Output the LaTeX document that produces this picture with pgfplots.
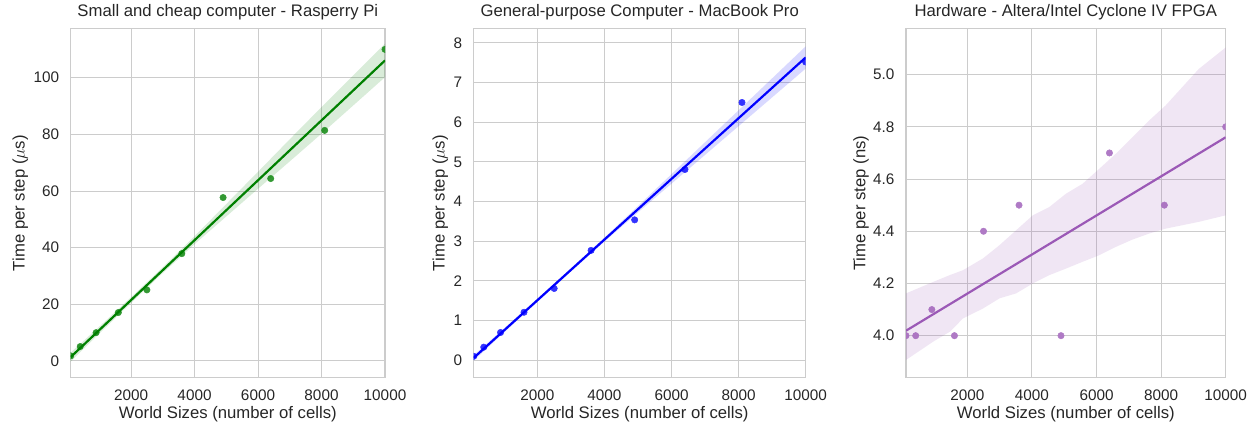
\documentclass[border=0pt]{standalone}
\usepackage{fontspec}
\setmainfont{Liberation Sans}
\usepackage{pgfplots}
\pgfplotsset{compat=1.18}
\definecolor{gridc}{RGB}{204,204,204}
\definecolor{txt}{RGB}{38,38,38}
\definecolor{gline}{RGB}{0,128,0}
\definecolor{gdot}{RGB}{51,153,51}
\definecolor{bline}{RGB}{0,0,255}
\definecolor{bdot}{RGB}{51,51,255}
\definecolor{pline}{RGB}{155,89,182}
\definecolor{pdot}{RGB}{175,122,197}
\pgfplotsset{
  sbase/.style={
    scale only axis, height=349pt,
    xmin=100, xmax=10000,
    xtick={2000,4000,6000,8000,10000},
    axis line style={draw=gridc, line width=1.25pt},
    grid=major, major grid style={draw=gridc, line width=1pt},
    major tick length=0pt, tick style={draw=none},
    tick label style={font=\fontsize{15.3}{18}\selectfont, text=txt},
    /pgf/number format/assume math mode=true,
    /pgf/number format/1000 sep={},
    scaled x ticks=false, scaled y ticks=false,
    xticklabel style={inner sep=0pt, anchor=north, yshift=-12pt},
    yticklabel style={inner sep=0pt, anchor=east, xshift=-11.4pt},
    label style={font=\fontsize{16.7}{20}\selectfont, text=txt},
    title style={font=\fontsize{16.7}{20}\selectfont, text=txt, at={(axis description cs:0.5,1)}, anchor=base, yshift=6.6pt, inner sep=0pt},
    xlabel style={at={(axis description cs:0.5,0)}, anchor=base, yshift=-40.3pt, inner sep=0pt},
    clip marker paths=true,
    xlabel={World Sizes (number of cells)},
  },
  dots/.style={only marks, color=#1, mark=*, mark size=3.2pt, mark options={draw=#1, fill=#1, line width=0.5pt, solid}},
}
\begin{document}
\begin{tikzpicture}
\path[use as bounding box] (0,0) rectangle (1255pt,426pt);

% Panel 1
\begin{axis}[sbase, at={(70.7pt,48.3pt)}, anchor=south west, width=314.3pt,
  ymin=-5.9, ymax=117.3, ytick={0,20,40,60,80,100},
  title={Small and cheap computer - Rasperry Pi},
  ylabel={Time per step ($\mu$s)},
  ylabel style={at={([xshift=-46pt]axis description cs:0,0.5)}, anchor=base, inner sep=0pt}]
\addplot[dots=gdot] coordinates {(100,1.8)(400,5.1)(900,10.0)(1600,17.1)(2500,25.1)(3600,37.9)(4900,57.7)(6400,64.4)(8100,81.4)(10000,110.0)};
\addplot[draw=none, fill=gline, fill opacity=0.15] coordinates {
(100,2.99)(1000,12.11)(2000,22.48)(3000,33.06)(4000,44.03)(5000,55.41)(6000,66.79)(7000,78.26)(8000,89.64)(9000,100.81)(10000,111.99)
(10000,100.19)(9000,90.21)(8000,80.24)(7000,70.46)(6000,60.79)(5000,51.01)(4000,41.23)(3000,31.06)(2000,20.48)(1000,9.71)(100,-0.21)};
\addplot[gline, line width=2.2pt] coordinates {(100,1.39)(10000,106.09)};
\end{axis}

% Panel 2
\begin{axis}[sbase, at={(473.7pt,48.3pt)}, anchor=south west, width=332pt,
  ymin=-0.44, ymax=8.36, ytick={0,1,2,3,4,5,6,7,8},
  title={General-purpose Computer - MacBook Pro},
  ylabel={Time per step ($\mu$s)},
  ylabel style={at={([xshift=-29pt]axis description cs:0,0.5)}, anchor=base, inner sep=0pt}]
\addplot[dots=bdot] coordinates {(100,0.1)(400,0.33)(900,0.70)(1600,1.21)(2500,1.81)(3600,2.77)(4900,3.54)(6400,4.81)(8100,6.50)(10000,7.52)};
\addplot[draw=none, fill=bline, fill opacity=0.15] coordinates {
(100,0.13)(1000,0.798)(2000,1.553)(3000,2.319)(4000,3.094)(5000,3.889)(6000,4.694)(7000,5.499)(8000,6.304)(9000,7.109)(10000,7.915)
(10000,7.355)(9000,6.629)(8000,5.904)(7000,5.179)(6000,4.454)(5000,3.729)(4000,2.994)(3000,2.239)(2000,1.473)(1000,0.698)(100,-0.01)};
\addplot[bline, line width=2.2pt] coordinates {(100,0.060)(10000,7.635)};
\end{axis}

% Panel 3
\begin{axis}[sbase, at={(906pt,48.3pt)}, anchor=south west, width=319.7pt,
  ymin=3.839, ymax=5.176, ytick={4.0,4.2,4.4,4.6,4.8,5.0},
  yticklabel style={/pgf/number format/fixed, /pgf/number format/fixed zerofill, /pgf/number format/precision=1},
  title={Hardware - Altera/Intel Cyclone IV FPGA},
  ylabel={Time per step (ns)},
  ylabel style={at={([xshift=-40.7pt]axis description cs:0,0.5)}, anchor=base, inner sep=0pt}]
\addplot[dots=pdot] coordinates {(100,4.0)(400,4.0)(900,4.1)(1600,4.0)(2500,4.4)(3600,4.5)(4900,4.0)(6400,4.7)(8100,4.5)(10000,4.8)};
\addplot[draw=none, fill=pline, fill opacity=0.15] coordinates {
(100,4.162)(941,4.206)(1455,4.232)(1866,4.251)(2483,4.296)(2997,4.347)(3511,4.404)(4026,4.461)(4540,4.493)(5054,4.544)(5568,4.582)(6082,4.639)(6596,4.697)(7111,4.760)(7625,4.824)(8139,4.882)(8653,4.952)(9167,5.022)(10000,5.104)
(10000,4.461)(9167,4.436)(8653,4.423)(8139,4.410)(7625,4.391)(7111,4.368)(6596,4.340)(6082,4.308)(5568,4.283)(5054,4.257)(4540,4.232)(4026,4.200)(3511,4.162)(2997,4.143)(2483,4.104)(1866,4.066)(1455,4.015)(941,3.977)(100,3.907)};
\addplot[pline, line width=2.2pt] coordinates {(100,4.019)(10000,4.760)};
\end{axis}
\end{tikzpicture}
\end{document}
